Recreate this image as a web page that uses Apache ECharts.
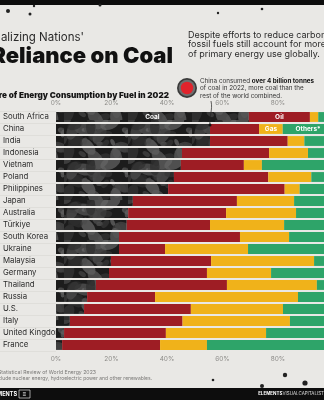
<!DOCTYPE html>
<html>
<head>
<meta charset="utf-8">
<script src="https://cdn.jsdelivr.net/npm/echarts@6/dist/echarts.min.js"></script>
<style>
  html, body { margin: 0; padding: 0; background: #e9e8e5; }
  #chart { width: 324px; height: 400px; }
</style>
</head>
<body>
<div id="chart"></div>
<script>
// Share of energy consumption by fuel, 2022 (percent)
const countries = ['South Africa', 'China', 'India', 'Indonesia', 'Vietnam', 'Poland', 'Philippines', 'Japan', 'Australia', 'Türkiye', 'South Korea', 'Ukraine', 'Malaysia', 'Germany', 'Thailand', 'Russia', 'U.S.', 'Italy', 'United Kingdom', 'France'];
const coal   = [69.5, 55.5, 55.5, 45.4, 45.0, 42.5, 40.4, 27.7, 26.0, 25.5, 22.7, 22.7, 19.8, 19.1, 14.4, 11.2, 10.1, 5.0, 2.9, 2.2];
const oil    = [22.0, 17.7, 28.0, 31.4, 22.7, 34.0, 42.0, 37.5, 35.3, 30.0, 43.6, 16.6, 36.1, 35.3, 47.2, 24.5, 38.5, 40.6, 36.7, 35.3];
const gas    = [3.0, 8.5, 6.0, 14.0, 6.5, 15.5, 5.4, 20.6, 25.2, 26.7, 17.7, 29.9, 37.1, 23.1, 32.4, 51.5, 33.2, 38.7, 36.1, 16.9];
const others = [5.5, 18.3, 10.5, 9.2, 25.8, 8.0, 12.2, 14.2, 13.5, 17.8, 16.0, 30.8, 7.0, 22.5, 6.0, 12.8, 18.2, 15.7, 24.3, 45.6];
const tickValues = [0, 20, 40, 60, 80, 100];

// Mottled lump texture for the coal segments
function coalPattern() {
  const c = document.createElement('canvas');
  c.width = 64; c.height = 40;
  const g = c.getContext('2d');
  g.fillStyle = '#1c1c1c';
  g.fillRect(0, 0, 64, 40);
  for (let i = 0; i < 34; i++) {
    const x = (Math.sin(i * 12.9898) * 43758.5453 % 1 + 1) % 1 * 64;
    const y = (Math.sin(i * 78.233) * 12345.678 % 1 + 1) % 1 * 40;
    const r = 2.5 + ((Math.sin(i * 3.7) + 1) * 2.5);
    const shade = 45 + Math.round(((Math.sin(i * 5.1) + 1) / 2) * 60);
    g.fillStyle = 'rgba(' + shade + ',' + shade + ',' + shade + ',0.7)';
    g.beginPath();
    g.ellipse(x, y, r * 1.4, r * 0.8, i, 0, Math.PI * 2);
    g.fill();
  }
  return c;
}

const chart = echarts.init(document.getElementById('chart'), null, { renderer: 'canvas' });
const FONT = 'Inter, Roboto, sans-serif';

function withLabel(arr, idx, text) {
  return arr.map((v, i) => i === idx ? {
    value: v,
    label: { show: true, position: 'inside', formatter: text, color: '#fff', fontSize: 6.5, fontWeight: 'bold', fontFamily: FONT }
  } : v);
}

const axisLabelStyle = {
  color: '#8c8b88', fontSize: 6.5, fontFamily: FONT,
  formatter: v => v + '%', customValues: tickValues
};

const barCommon = { type: 'bar', stack: 'total', barCategoryGap: '18%', xAxisIndex: 0, silent: true };

const option = {
  backgroundColor: '#e9e8e5',
  animation: false,
  grid: { left: 56, top: 111, width: 277.5, height: 240, containLabel: false, outerBoundsMode: 'none' },
  xAxis: [
    { type: 'value', position: 'top', min: 0, max: 100, interval: 20,
      axisLine: { show: false }, axisTick: { show: false }, splitLine: { show: false },
      axisLabel: Object.assign({ margin: 4 }, axisLabelStyle) },
    { type: 'value', position: 'bottom', min: 0, max: 100, interval: 20,
      axisLine: { show: false }, axisTick: { show: false }, splitLine: { show: false },
      axisLabel: Object.assign({ margin: 5 }, axisLabelStyle) }
  ],
  yAxis: {
    type: 'category', data: countries, inverse: true,
    axisLine: { show: false },
    axisTick: { show: true, length: 56, lineStyle: { color: '#d8d6d2', width: 0.6 } },
    axisLabel: { align: 'left', margin: 53, color: '#2a2a2a', fontSize: 7.8, fontFamily: FONT }
  },
  series: [
    Object.assign({}, barCommon, { name: 'Coal', data: withLabel(coal, 0, 'Coal'),
      itemStyle: { color: { image: coalPattern(), repeat: 'repeat' } } }),
    Object.assign({}, barCommon, { name: 'Oil', data: withLabel(oil, 0, 'Oil'),
      itemStyle: { color: '#9e1d24' } }),
    Object.assign({}, barCommon, { name: 'Gas', data: withLabel(gas, 1, 'Gas'),
      itemStyle: { color: '#f0b21a' } }),
    Object.assign({}, barCommon, { name: 'Others', data: withLabel(others, 1, 'Others*'),
      itemStyle: { color: '#2ea469' } })
  ]
};
chart.setOption(option);

// Callout pointing at the end of China's coal segment
const chinaIdx = countries.indexOf('China');
const pt = chart.convertToPixel({ xAxisIndex: 0, yAxisIndex: 0 }, [coal[chinaIdx], countries[chinaIdx]]);
const dotY = pt[1] - 4;

chart.setOption({
  graphic: [
    // top and bottom black bands
    { type: 'rect', shape: { x: 0, y: 0, width: 324, height: 5 }, style: { fill: '#0d0d0d' } },
    { type: 'circle', shape: { cx: 8, cy: 11, r: 2 }, style: { fill: '#222' } },
    { type: 'circle', shape: { cx: 30, cy: 14, r: 1.5 }, style: { fill: '#222' } },
    { type: 'circle', shape: { cx: 34, cy: 6, r: 1.2 }, style: { fill: '#222' } },
    { type: 'circle', shape: { cx: 100, cy: 5, r: 1.5 }, style: { fill: '#222' } },
    { type: 'circle', shape: { cx: 218, cy: 13, r: 1.2 }, style: { fill: '#222' } },
    { type: 'circle', shape: { cx: 262, cy: 9, r: 1.3 }, style: { fill: '#222' } },
    { type: 'rect', shape: { x: 0, y: 388, width: 324, height: 12 }, style: { fill: '#0d0d0d' } },
    { type: 'circle', shape: { cx: 213, cy: 380, r: 1.3 }, style: { fill: '#222' } },
    { type: 'circle', shape: { cx: 285, cy: 375, r: 2.2 }, style: { fill: '#222' } },
    { type: 'circle', shape: { cx: 305, cy: 383, r: 2.6 }, style: { fill: '#222' } },
    { type: 'circle', shape: { cx: 262, cy: 386, r: 2 }, style: { fill: '#222' } },

    // title block
    { type: 'text', x: 84, y: 38, style: { text: "Visualizing Nations'", align: 'right', verticalAlign: 'middle',
      fontSize: 11.5, fontFamily: FONT, fill: '#2b2b2b' } },
    { type: 'text', x: 173, y: 56, style: { text: 'Reliance on Coal', align: 'right', verticalAlign: 'middle',
      fontSize: 22, fontWeight: 900, fontFamily: FONT, fill: '#111' } },
    { type: 'text', x: 169, y: 96, style: { text: 'Share of Energy Consumption by Fuel in 2022', align: 'right', verticalAlign: 'middle',
      fontSize: 8.2, fontWeight: 900, fontFamily: FONT, fill: '#151515' } },

    // intro paragraph
    { type: 'text', x: 188, y: 35, style: { text: 'Despite efforts to reduce carbon emissions,', verticalAlign: 'middle',
      fontSize: 9, fontFamily: FONT, fill: '#2b2b2b' } },
    { type: 'text', x: 188, y: 44.5, style: { text: 'fossil fuels still account for more than {b|80%}', verticalAlign: 'middle',
      fontSize: 9, fontFamily: FONT, fill: '#2b2b2b', rich: { b: { fontWeight: 'bold', fontSize: 9, fontFamily: FONT, fill: '#111' } } } },
    { type: 'text', x: 188, y: 54, style: { text: 'of primary energy use globally.', verticalAlign: 'middle',
      fontSize: 9, fontFamily: FONT, fill: '#2b2b2b' } },

    // China callout
    { type: 'circle', shape: { cx: 187, cy: 88, r: 10 }, style: { fill: '#3a3a3a' } },
    { type: 'circle', shape: { cx: 187, cy: 88, r: 8.3 }, style: { fill: '#6e6e6e' } },
    { type: 'circle', shape: { cx: 187, cy: 88, r: 6.2 }, style: { fill: '#e0232c' } },
    { type: 'text', x: 200, y: 81, style: { text: 'China consumed {b|over 4 billion tonnes}', verticalAlign: 'middle',
      fontSize: 6.3, fontFamily: FONT, fill: '#333', rich: { b: { fontWeight: 'bold', fontSize: 6.3, fontFamily: FONT, fill: '#111' } } } },
    { type: 'text', x: 200, y: 88.5, style: { text: 'of coal in 2022, more coal than the', verticalAlign: 'middle',
      fontSize: 6.3, fontFamily: FONT, fill: '#333' } },
    { type: 'text', x: 200, y: 96, style: { text: 'rest of the world combined.', verticalAlign: 'middle',
      fontSize: 6.3, fontFamily: FONT, fill: '#333' } },
    { type: 'bezierCurve', shape: { x1: pt[0] + 1, y1: 101, x2: pt[0], y2: dotY, cpx1: pt[0] + 3, cpy1: 110, cpx2: pt[0] - 1, cpy2: 116 },
      style: { stroke: '#222', lineWidth: 0.7, fill: null }, z: 10 },
    { type: 'circle', shape: { cx: pt[0], cy: dotY, r: 1.5 }, style: { fill: '#111' }, z: 10 },

    // footer
    { type: 'text', x: 96, y: 372, style: { text: 'Source: Statistical Review of World Energy 2023', align: 'right', verticalAlign: 'middle',
      fontSize: 5.2, fontFamily: FONT, fill: '#7a7977' } },
    { type: 'text', x: 152, y: 378, style: { text: '*Others include nuclear energy, hydroelectric power and other renewables.', align: 'right', verticalAlign: 'middle',
      fontSize: 5, fontFamily: FONT, fill: '#7a7977' } },
    { type: 'rect', shape: { x: 19, y: 390, width: 11, height: 8 }, style: { fill: null, stroke: '#fff', lineWidth: 0.6 } },
    { type: 'text', x: 17, y: 394, style: { text: 'ELEMENTS', align: 'right', verticalAlign: 'middle',
      fontSize: 5.5, fontWeight: 'bold', fontFamily: FONT, fill: '#fff' } },
    { type: 'text', x: 24.5, y: 394, style: { text: '≡', align: 'center', verticalAlign: 'middle',
      fontSize: 6, fontWeight: 'bold', fontFamily: FONT, fill: '#fff' } },
    { type: 'text', x: 324, y: 394, style: { text: '{b|ELEMENTS}VISUALCAPITALIST', align: 'right', verticalAlign: 'middle',
      fontSize: 4.5, fontFamily: FONT, fill: '#ddd', rich: { b: { fontWeight: 'bold', fontSize: 4.5, fontFamily: FONT, fill: '#fff' } } } }
  ]
});
</script>
</body>
</html>
